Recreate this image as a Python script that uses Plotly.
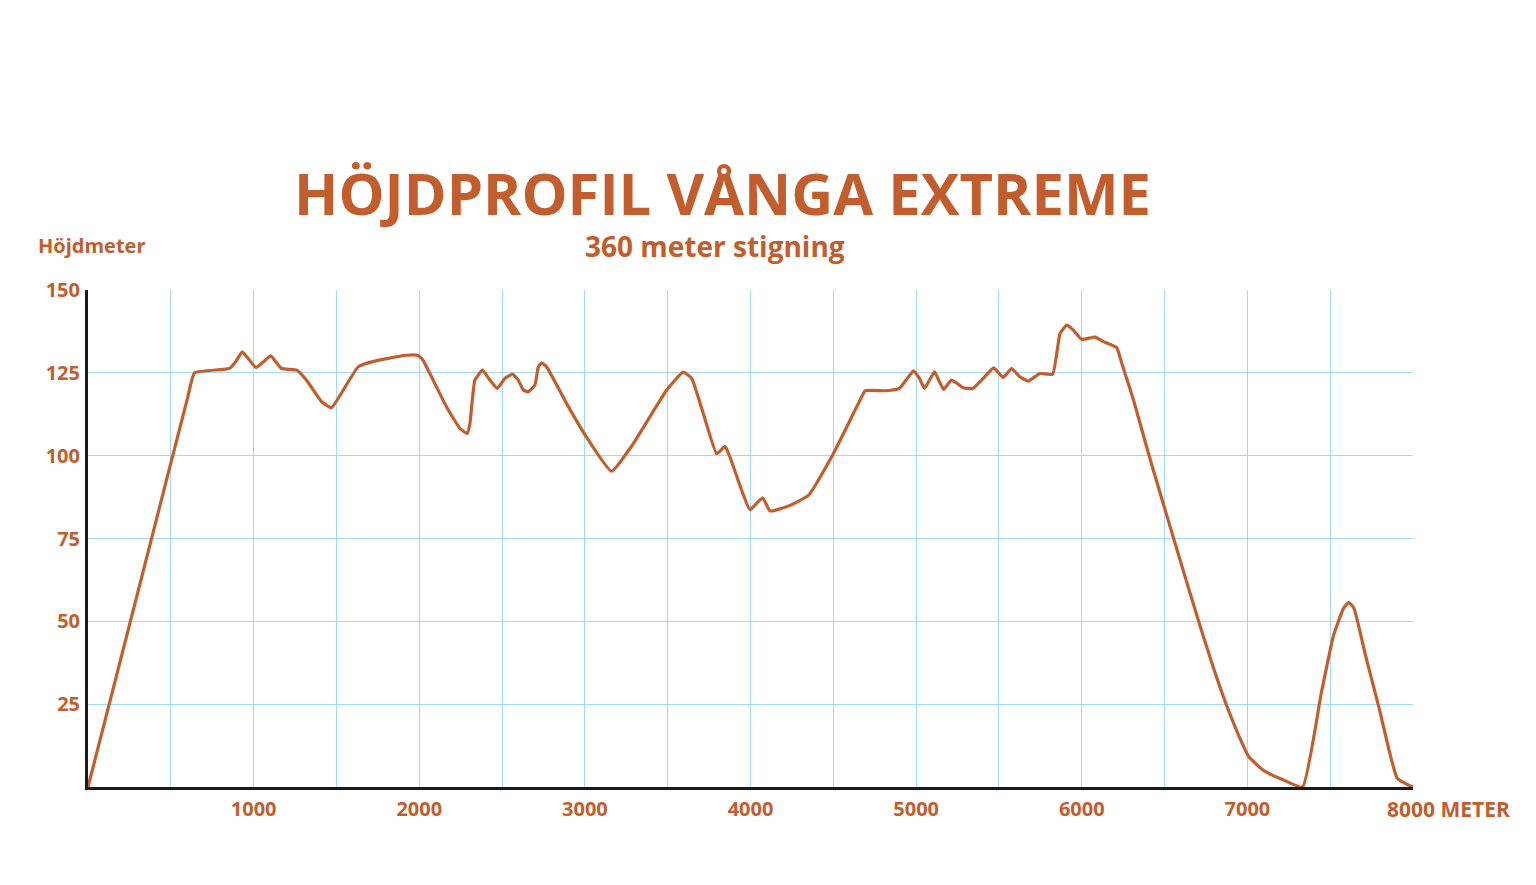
import plotly.graph_objects as go

# Distance along the track (m) and elevation (höjdmeter)
distance_m = [0, 320, 600, 644, 852, 891, 931, 968, 1014, 1065, 1104, 1134, 1169, 1261, 1319, 1412, 1470,
              1528, 1631, 1712, 1805, 1921, 1990, 2020, 2064, 2165, 2246, 2290, 2306, 2336, 2382,
              2427, 2471, 2517, 2564, 2598, 2628, 2658, 2698, 2719, 2739, 2769, 2890, 3010, 3161,
              3292, 3494, 3594, 3645, 3715, 3796, 3846, 3876, 3947, 3997, 4073, 4118, 4238, 4349,
              4500, 4661, 4693, 4818, 4899, 4939, 4984, 5020, 5051, 5111, 5141, 5166, 5212, 5242,
              5283, 5343, 5404, 5469, 5525, 5576, 5626, 5677, 5747, 5824, 5869, 5909, 5949, 6000,
              6081, 6131, 6211, 6241, 6312, 6402, 6503, 6553, 6654, 6715, 6785, 6868, 6950, 7008,
              7095, 7219, 7333, 7446, 7519, 7581, 7612, 7643, 7715, 7798, 7860, 7905, 7994, 8000]
elevation_m = [0, 62.5, 117.2, 125, 126.3, 128.3, 131.3, 129.3, 126.6, 128.6, 130.1, 128.3, 126.3, 125.8, 122.8,
               116.2, 114.5, 118.7, 126.8, 128.3, 129.3, 130.3, 130.3, 129, 124.8, 114.7, 108.2,
               106.7, 109.7, 122.8, 125.8, 122.8, 120.3, 123.3, 124.6, 122.8, 119.8, 119.3, 121.3,
               126.8, 128, 126.8, 115.7, 105.6, 95.3, 103.6, 119.8, 125.2, 123.3, 112.7, 100.6,
               102.8, 99.6, 89.5, 83.7, 87.3, 83.3, 85, 88, 100.6, 116.7, 119.6, 119.6, 120.3,
               122.8, 125.6, 123.3, 120.3, 125.3, 122.3, 120, 122.8, 122, 120.5, 120.3, 123.3,
               126.5, 123.6, 126.3, 123.8, 122.5, 124.8, 124.6, 136.9, 139.4, 137.9, 135.1,
               135.8, 134.4, 132.6, 128, 116.9, 100.8, 83.7, 75.3, 58.5, 48.5, 37.5, 25.5, 15.3, 9.2,
               5.1, 2.1, 0, 28.3, 45.5, 54, 55.7, 54, 39.4, 23.3, 10.2, 2.6, 0.1, 0]

x_tickvals = [1000, 2000, 3000, 4000, 5000, 6000, 7000]
x_ticktext = ["1000", "2000", "3000", "4000", "5000", "6000", "7000"]
y_tickvals = [25, 50, 75, 100, 125, 150]

title_text = "HÖJDPROFIL VÅNGA EXTREME"
subtitle_text = "360 meter stigning"
y_label = "Höjdmeter"
x_end_label = "8000 METER"

ORANGE = "#C25E2D"
GRID = "#A4D9F1"
FONT = "Open Sans"

fig = go.Figure()
fig.add_trace(go.Scatter(
    x=distance_m, y=elevation_m, mode="lines",
    line=dict(color=ORANGE, width=3.2, shape="spline", smoothing=0.4),
    cliponaxis=False, hoverinfo="x+y", showlegend=False,
))

fig.update_layout(
    width=1528, height=877,
    margin=dict(l=80, r=123, t=282, b=98),
    paper_bgcolor="white", plot_bgcolor="white",
    font=dict(family=FONT, color=ORANGE),
    xaxis=dict(
        range=[0, 8000], tickvals=x_tickvals, ticktext=x_ticktext,
        showgrid=True, gridcolor=GRID, gridwidth=1,
        minor=dict(dtick=500, tick0=0, showgrid=True, gridcolor=GRID, gridwidth=1),
        showline=True, linecolor="#1a1a1a", linewidth=3,
        ticks="", zeroline=False, ticklabelstandoff=2,
        tickfont=dict(family=FONT, size=20, color=ORANGE, weight="bold"),
    ),
    yaxis=dict(
        range=[0, 150], tickvals=y_tickvals,
        showgrid=True, gridcolor=GRID, gridwidth=1,
        showline=True, linecolor="#1a1a1a", linewidth=3,
        ticks="", zeroline=False, ticklabelstandoff=1,
        tickfont=dict(family=FONT, size=20, color=ORANGE, weight="bold"),
    ),
    annotations=[
        dict(text=f"<b>{title_text}</b>", xref="paper", yref="paper", x=0.4785, y=1.196,
             xanchor="center", yanchor="middle", showarrow=False,
             font=dict(family=FONT, size=58, color=ORANGE)),
        dict(text=f"<b>{subtitle_text}</b>", xref="paper", yref="paper", x=0.473, y=1.0885,
             xanchor="center", yanchor="middle", showarrow=False,
             font=dict(family=FONT, size=28, color=ORANGE)),
        dict(text=f"<b>{y_label}</b>", xref="paper", yref="paper", x=-0.039, y=1.0905,
             xanchor="left", yanchor="middle", showarrow=False,
             font=dict(family=FONT, size=20, color=ORANGE)),
        dict(text=f"<b>{x_end_label}</b>", xref="x", yref="paper", x=8000, y=0,
             xanchor="left", yanchor="middle", xshift=-28, yshift=-22, showarrow=False,
             font=dict(family=FONT, size=21, color=ORANGE)),
    ],
)

fig.write_html("out.html")
